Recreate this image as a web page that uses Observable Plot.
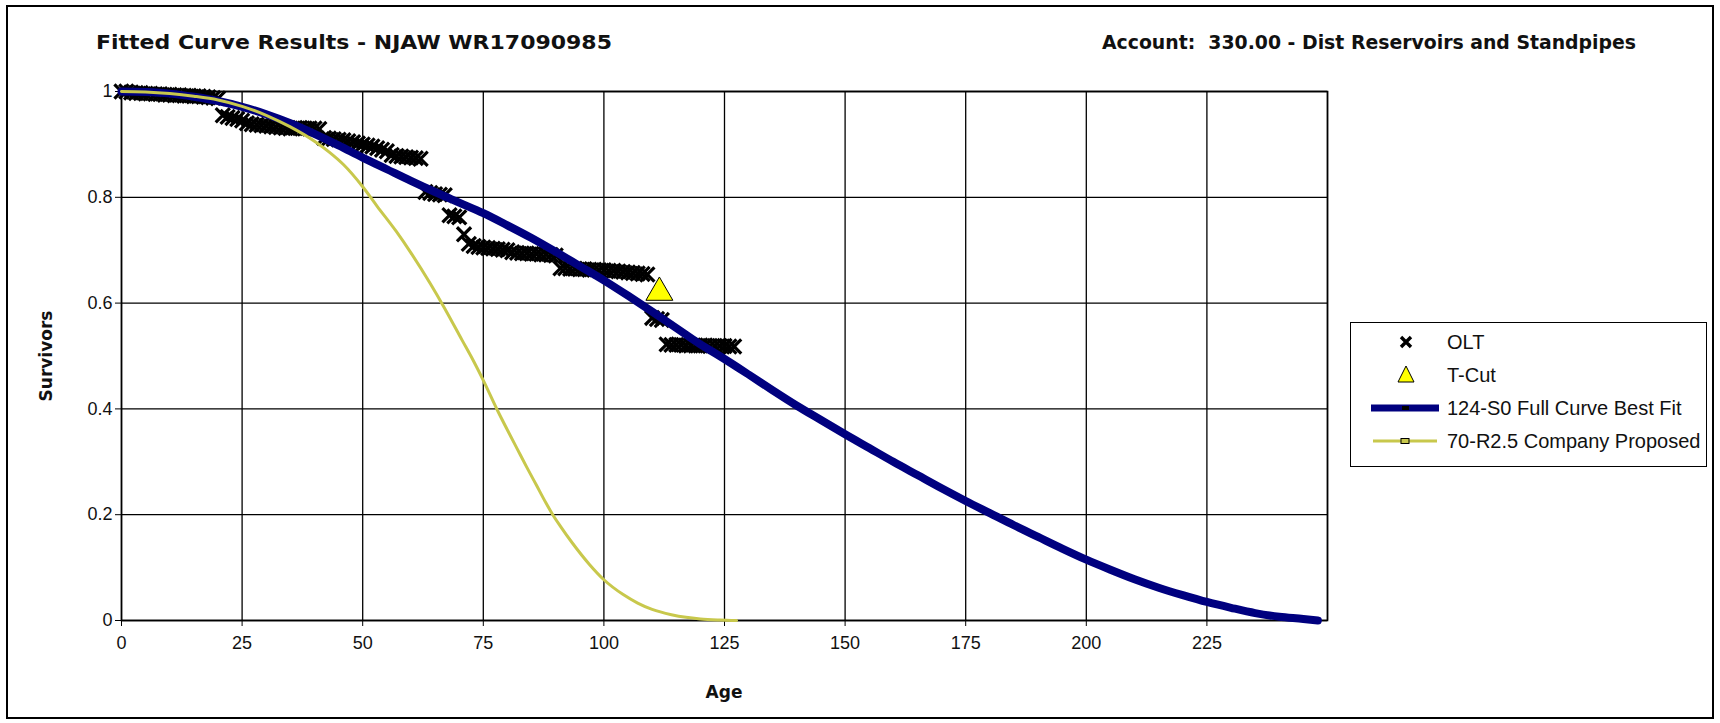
<!DOCTYPE html>
<html><head><meta charset="utf-8">
<script src="https://cdn.jsdelivr.net/npm/d3@7"></script>
<script src="https://cdn.jsdelivr.net/npm/@observablehq/plot@0.6"></script>
<style>
body{margin:0;background:#fff;}
#wrap{position:relative;width:1720px;height:723px;overflow:hidden;background:#fff;font-family:"Liberation Sans",Arial,sans-serif;}
#frame{position:absolute;left:6px;top:5px;width:1708px;height:714px;border:2px solid #000;box-sizing:border-box;}
#chart{position:absolute;left:0;top:0;}
#titles{position:absolute;left:0;top:0;}
.axl{position:absolute;font-family:"DejaVu Sans",sans-serif;font-weight:bold;font-size:17px;color:#111;white-space:nowrap;line-height:1;}
#legend{position:absolute;left:1350px;top:322px;width:357px;height:145px;border:1.5px solid #000;box-sizing:border-box;background:#fff;}
.row{position:absolute;left:0;height:26px;display:flex;align-items:center;font-size:20px;color:#111;white-space:nowrap;}
.row svg{width:90px;height:26px;margin-right:6px;}
</style></head>
<body><div id="wrap"><div id="frame"></div><div id="chart"></div>
<svg id="titles" width="1720" height="80" style="font-family:'DejaVu Sans',sans-serif;font-weight:bold;font-size:20px;fill:#111;">
  <text x="96" y="49" textLength="516" lengthAdjust="spacingAndGlyphs">Fitted Curve Results - NJAW WR17090985</text>
  <text x="1102" y="49" textLength="534" lengthAdjust="spacingAndGlyphs" xml:space="preserve">Account:  330.00 - Dist Reservoirs and Standpipes</text>
</svg>
<div class="axl" style="left:46px;top:356px;transform:translate(-50%,-50%) rotate(-90deg);">Survivors</div>
<div class="axl" style="left:724px;top:692px;transform:translate(-50%,-50%);">Age</div>
<div id="legend"></div>
</div>
<script>
// ---- data ----
const xTicks = [0, 25, 50, 75, 100, 125, 150, 175, 200, 225];
const xGrid = [0, 25, 50, 75, 100, 125, 150, 175, 200, 225, 250];
const yTicks = [0, 0.2, 0.4, 0.6, 0.8, 1];
const yTickLabels = ["0", "0.2", "0.4", "0.6", "0.8", "1"];

const oltAge = [0,1,2,3,4,5,6,7,8,9,10,11,12,13,14,15,16,17,18,19,20,
  21,22,23,24,25,26,27,28,29,30,31,32,33,34,35,36,37,38,39,40,41,
  42,43,44,45,46,47,48,49,50,51,52,53,54,55,56,57,58,59,60,61,62,
  63,64,65,66,67,68,69,70,71,72,73,74,75,76,77,78,79,80,
  81,82,83,84,85,86,87,88,89,90,
  91,92,93,94,95,96,97,98,99,100,101,102,103,104,105,106,107,108,109,
  110,111,112,113,114,115,116,117,118,119,120,121,122,123,124,125,126,127];
const oltSurv = [1.0,1.0,0.998,0.997,0.997,0.996,0.996,0.995,0.995,0.994,0.994,0.993,0.993,0.992,0.992,0.991,0.991,0.99,0.989,0.988,0.987,
  0.955,0.952,0.95,0.948,0.945,0.94,0.938,0.937,0.936,0.935,0.934,0.933,0.932,0.931,0.93,0.931,0.931,0.93,0.93,0.93,0.929,
  0.912,0.911,0.91,0.909,0.908,0.906,0.904,0.902,0.9,0.898,0.896,0.893,0.89,0.887,0.88,0.878,0.877,0.876,0.875,0.874,0.873,
  0.81,0.808,0.806,0.805,0.804,0.766,0.764,0.762,0.73,0.712,0.708,0.706,0.705,0.704,0.703,0.702,0.701,0.7,
  0.696,0.695,0.694,0.694,0.693,0.693,0.692,0.692,0.691,0.69,
  0.666,0.666,0.665,0.665,0.664,0.664,0.663,0.663,0.662,0.662,0.661,0.661,0.66,0.659,0.658,0.657,0.656,0.655,0.654,
  0.572,0.57,0.568,0.522,0.521,0.521,0.521,0.52,0.52,0.52,0.52,0.52,0.519,0.519,0.519,0.519,0.518,0.518];

const tcutAge = [111.5];
const tcutSurv = [0.62];

const s0Age = [0,5,10,15,20,25,30,35,40,45,50,55,60,65,70,75,80,85,90,95,100,105,110,115,120,124,130,135,140,145,150,155,160,165,170,175,180,185,190,195,200,205,210,215,220,225,230,235,240,245,248];
const s0Surv = [1.0,0.999,0.996,0.99,0.982,0.971,0.957,0.94,0.92,0.898,0.875,0.853,0.831,0.81,0.79,0.77,0.747,0.723,0.697,0.67,0.643,0.614,0.584,0.553,0.522,0.5,0.465,0.435,0.406,0.379,0.352,0.326,0.3,0.275,0.25,0.226,0.203,0.18,0.158,0.136,0.115,0.096,0.078,0.062,0.048,0.035,0.024,0.014,0.007,0.003,0.0];

const r25Age = [0,5,10,15,20,25,30,35,40,43,46,50,53,57,60,64,67,70.6,73,75,78,80,82,84,86,88,89.4,91,93.5,97,100,104,107,110,114,117,120,124,127.5];
const r25Surv = [1.0,0.999,0.996,0.991,0.984,0.972,0.955,0.933,0.906,0.886,0.862,0.82,0.783,0.735,0.695,0.637,0.59,0.53,0.49,0.454,0.396,0.36,0.325,0.29,0.256,0.222,0.2,0.178,0.146,0.106,0.077,0.049,0.033,0.021,0.011,0.006,0.003,0.001,0.0];

const seriesNames = ["OLT", "T-Cut", "124-S0 Full Curve Best Fit", "70-R2.5 Company Proposed"];
const colors = {olt: "#000000", tcut: "#ffff00", s0: "#00007f", r25: "#c8c84c"};

// ---- build ----
const olt = oltAge.map((a, i) => ({age: a, surv: oltSurv[i]}));
const tcut = tcutAge.map((a, i) => ({age: a, surv: tcutSurv[i]}));
const s0 = s0Age.map((a, i) => ({age: a, surv: s0Surv[i]}));
const r25 = r25Age.map((a, i) => ({age: a, surv: r25Surv[i]}));

const chart = Plot.plot({
  width: 1340, height: 723,
  marginLeft: 121, marginTop: 91, marginRight: 13, marginBottom: 103,
  x: {domain: [0, 250]},
  y: {domain: [0, 1]},
  style: {fontFamily: "'Liberation Sans', Arial, sans-serif", fontSize: "18px", color: "#111", background: "transparent", overflow: "visible"},
  marks: [
    Plot.gridX(xGrid, {stroke: "#000", strokeOpacity: 1, strokeWidth: 1.3}),
    Plot.gridY(yTicks, {stroke: "#000", strokeOpacity: 1, strokeWidth: 1.3}),
    Plot.frame({stroke: "#000", strokeWidth: 1.6}),
    Plot.axisX(xTicks, {tickSize: 6, tickPadding: 10, tickFormat: d => String(d), label: null, stroke: "#000", fontSize: 18}),
    Plot.axisY(yTicks, {tickSize: 6, tickPadding: 3, tickFormat: d => yTickLabels[yTicks.indexOf(d)], label: null, stroke: "#000", fontSize: 18}),
    Plot.dot(olt, {x: "age", y: "surv", symbol: "times", r: 6.5, stroke: colors.olt, strokeWidth: 3.2}),
    Plot.line(s0, {x: "age", y: "surv", stroke: colors.s0, strokeWidth: 8, curve: "monotone-x"}),
    Plot.line(r25, {x: "age", y: "surv", stroke: colors.r25, strokeWidth: 3, curve: "monotone-x"}),
    Plot.dot(tcut, {x: "age", y: "surv", symbol: "triangle", r: 10, fill: colors.tcut, stroke: "#000", strokeWidth: 1})
  ]
});
document.getElementById("chart").appendChild(chart);

// ---- legend ----
const icons = [
  `<svg viewBox="0 0 90 26"><path d="M50,8 L60,18 M60,8 L50,18" stroke="#000" stroke-width="3.4"/></svg>`,
  `<svg viewBox="0 0 90 26"><path d="M55,4 L63,20 L47,20 Z" fill="#ffff00" stroke="#000" stroke-width="1"/></svg>`,
  `<svg viewBox="0 0 90 26"><line x1="20" y1="13" x2="88" y2="13" stroke="${colors.s0}" stroke-width="7"/><rect x="51" y="11" width="7" height="4" fill="#000"/></svg>`,
  `<svg viewBox="0 0 90 26"><line x1="22" y1="13" x2="86" y2="13" stroke="${colors.r25}" stroke-width="3"/><rect x="50" y="10.5" width="8" height="5" fill="${colors.r25}" stroke="#000" stroke-width="1"/></svg>`
];
const lg = document.getElementById("legend");
seriesNames.forEach((name, i) => {
  const r = document.createElement("div");
  r.className = "row";
  r.style.top = (6 + i * 33) + "px";
  r.innerHTML = icons[i] + `<span>${name}</span>`;
  lg.appendChild(r);
});
</script>
</body></html>
